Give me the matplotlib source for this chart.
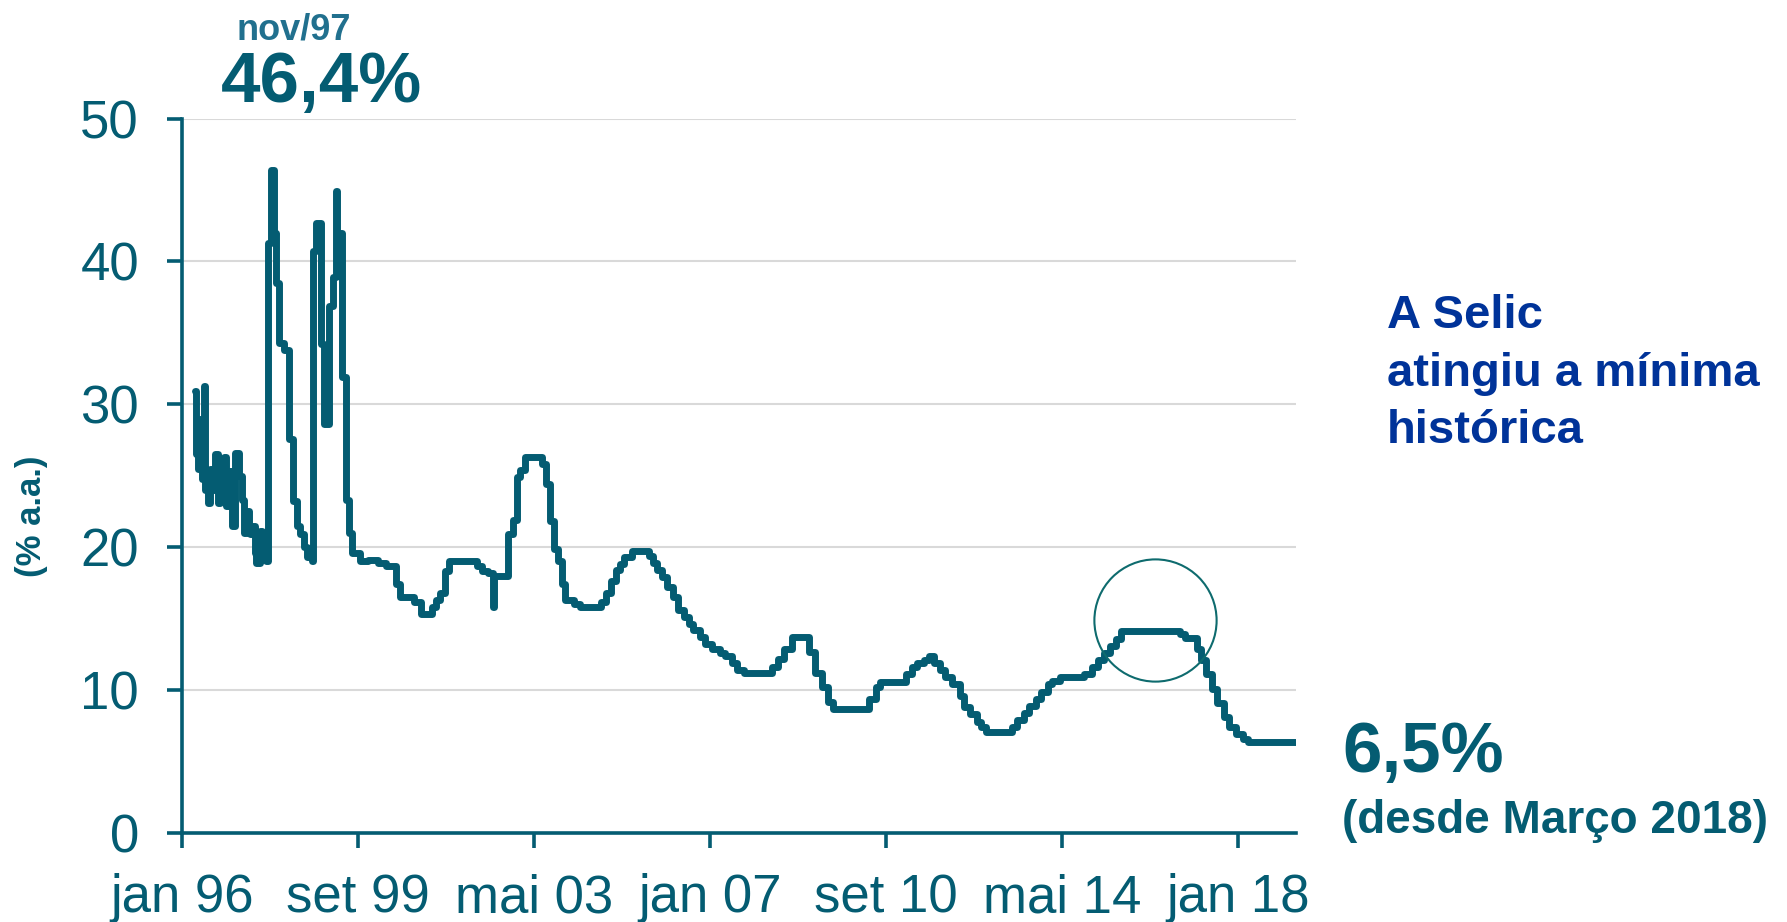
import matplotlib
matplotlib.use("Agg")
import matplotlib.pyplot as plt

plt.rcParams["font.family"] = ["Liberation Sans", "DejaVu Sans"]

# meses desde jan/1996 e taxa Selic (% a.a.)
meses = [
    3.2, 3.5, 4.0, 4.6, 5.0, 5.5, 5.8, 6.5, 7.1, 7.9, 8.3, 9.0, 9.6, 10.4, 11.1, 11.7,
    12.5, 13.3, 14.2, 15.0, 15.4, 16.0, 16.7, 17.1, 17.5, 18.2, 18.5, 19.4, 20.0, 21.0,
    21.5, 22.3, 23.0, 23.6, 24.3, 25.5, 26.7, 27.8, 28.8, 29.6, 30.4, 31.3, 32.4,
    32.7, 33.6, 34.8, 35.6, 36.8, 37.8, 38.4, 38.8, 39.2, 39.9, 40.9, 41.8, 42.6,
    44.5, 46.5, 49.0, 51.0, 53.5, 54.5, 58.0, 59.8, 62.5, 63.5, 64.6, 65.8, 66.7,
    73.8, 75.0, 76.5, 77.7, 77.9, 81.6, 82.8, 83.7, 84.6, 85.7, 89.9, 91.0, 92.0,
    93.0, 94.0, 94.9, 95.8, 98.0, 99.5, 104.8, 106.0, 107.2, 108.5, 109.5, 110.5,
    112.5, 116.8, 117.8, 118.8, 120.0, 121.2, 122.8, 124.0, 125.5, 126.8, 127.8,
    129.5, 130.8, 132.5, 134.5, 135.8, 137.5, 138.8, 140.5, 147.5, 149.0, 150.5,
    152.5, 156.8, 158.3, 160.0, 161.5, 162.8, 171.8, 173.5, 174.5, 181.0, 182.5,
    183.8, 185.5, 186.8, 188.0, 189.5, 190.8, 192.5, 194.5, 195.5, 197.0, 198.7,
    199.8, 201.0, 207.6, 208.8, 210.5, 211.8, 213.5, 214.8, 216.5, 217.6, 219.5,
    225.5, 227.5, 229.0, 230.5, 232.0, 233.5, 234.8, 249.6, 250.8, 253.8, 254.8,
    256.0, 257.5, 258.8, 260.5, 261.8, 263.5, 265.3, 266.5, 278.5,
]
selic = [
    30.9, 26.5, 25.5, 29.0, 24.8, 31.3, 24.0, 23.1, 25.5, 24.0, 26.5, 23.1, 25.0, 26.3, 22.9, 25.3,
    21.5, 26.6, 25.0, 23.3, 21.0, 22.5, 21.5, 20.9, 21.5, 19.6, 18.9, 21.1, 19.8, 19.0,
    41.3, 46.4, 42.0, 38.5, 34.3, 33.8, 27.6, 23.2, 21.5, 20.9, 20.0, 19.3, 19.0,
    40.7, 42.7, 34.2, 28.6, 36.9, 38.9, 44.9, 39.0, 42.0, 31.9, 23.3, 21.0, 19.6,
    19.0, 19.1, 18.9, 18.7, 17.4, 16.5, 16.2, 15.3, 15.8, 16.3, 16.8, 18.3, 19.0,
    18.7, 18.3, 18.2, 15.8, 18.0, 20.9, 21.9, 24.9, 25.4, 26.3, 25.8, 24.4, 21.8,
    19.9, 19.0, 17.4, 16.3, 16.0, 15.8, 16.2, 16.8, 17.6, 18.4, 18.8, 19.3,
    19.7, 19.4, 18.9, 18.4, 17.9, 17.2, 16.5, 15.6, 15.1, 14.6, 14.2,
    13.7, 13.2, 12.9, 12.6, 12.4, 11.9, 11.4, 11.2, 11.6, 12.2, 12.9,
    13.7, 12.7, 11.2, 10.2, 9.2, 8.7, 9.4, 10.2, 10.6, 11.1, 11.6,
    11.9, 12.1, 12.4, 11.9, 11.4, 10.9, 10.4, 9.6, 8.8, 8.3, 7.8,
    7.4, 7.1, 7.4, 7.9, 8.4, 8.9, 9.4, 9.9, 10.4, 10.65, 10.9,
    11.15, 11.6, 12.1, 12.6, 13.1, 13.6, 14.15, 13.9, 13.65, 12.9, 12.1,
    11.1, 10.1, 9.1, 8.1, 7.4, 6.9, 6.6, 6.4, 6.4,
]

tick_meses = [0, 44, 88, 132, 176, 220, 264]
tick_labels = ["jan 96", "set 99", "mai 03", "jan 07", "set 10", "mai 14", "jan 18"]

teal = "#045c72"
W, H = 1787, 922

fig = plt.figure(figsize=(W / 100, H / 100), dpi=100)
ax = fig.add_axes([182 / W, 1 - 833 / H, (1296 - 182) / W, (833 - 118.5) / H])

ax.plot(meses, selic, drawstyle="steps-post", color=teal, lw=5,
        solid_joinstyle="round", solid_capstyle="round", zorder=3)

# destaque do patamar de 14,25%
ax.plot(243.25, 14.9, "o", ms=88, mfc="none", mec="#0e6b6e", mew=1.5, zorder=4)

ax.set_xlim(0, 278.5)
ax.set_ylim(0, 50)
ax.set_yticks([0, 10, 20, 30, 40, 50])
ax.set_xticks(tick_meses)
ax.set_xticklabels(tick_labels)
ax.grid(axis="y", color="#d9d9d9", lw=1.5)
ax.set_axisbelow(True)

for s in ["top", "right"]:
    ax.spines[s].set_visible(False)
for s in ["left", "bottom"]:
    ax.spines[s].set_color(teal)
    ax.spines[s].set_linewidth(2.6)
ax.tick_params(direction="out", length=11, width=2.6, color=teal,
               labelcolor=teal, labelsize=38)
ax.tick_params(axis="x", pad=18)
ax.tick_params(axis="y", pad=20)

fig.text(32 / W, 1 - 516 / H, "(% a.a.)", rotation=90, ha="center", va="center",
         fontsize=25, weight="bold", color=teal)

fig.text(294 / W, 1 - 40 / H, "nov/97", ha="center", va="baseline",
         fontsize=26, weight="bold", color="#21708e")
fig.text(322 / W, 1 - 102 / H, "46,4%", ha="center", va="baseline",
         fontsize=51, weight="bold", color=teal)

fig.text(1342 / W, 1 - 772 / H, "6,5%", ha="left", va="baseline",
         fontsize=51, weight="bold", color=teal)
fig.text(1342 / W, 1 - 833 / H, "(desde Março 2018)", ha="left", va="baseline",
         fontsize=33, weight="bold", color=teal)

for i, linha in enumerate(["A Selic", "atingiu a mínima", "histórica"]):
    fig.text(1387 / W, 1 - (328 + 57.5 * i) / H, linha, ha="left", va="baseline",
             fontsize=34, weight="bold", color="#003399")

fig.savefig("out.png", dpi=100)
